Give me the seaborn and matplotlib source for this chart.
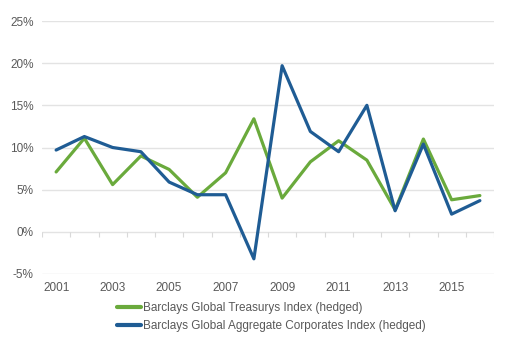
import matplotlib
matplotlib.use("Agg")
import matplotlib.pyplot as plt
import seaborn as sns
import pandas as pd
import numpy as np

years = list(range(2001, 2017))
treasurys = [7.1, 11.1, 5.6, 9.0, 7.4, 4.1, 7.0, 13.4, 4.0, 8.3, 10.8, 8.5, 2.6, 11.0, 3.8, 4.3]
corporates = [9.7, 11.3, 10.0, 9.5, 5.9, 4.4, 4.4, -3.2, 19.7, 11.9, 9.5, 15.0, 2.5, 10.4, 2.1, 3.7]
series_names = ["Barclays Global Treasurys Index (hedged)",
                "Barclays Global Aggregate Corporates Index (hedged)"]
yticks = [-5, 0, 5, 10, 15, 20, 25]
xtick_years = years[::2]

df = pd.DataFrame({
    "year": years * 2,
    "value": treasurys + corporates,
    "series": [series_names[0]] * len(years) + [series_names[1]] * len(years),
})

sns.set_theme(style="white")
plt.rcParams['font.family'] = ['Liberation Sans', 'DejaVu Sans']
text_color = "#595959"

fig = plt.figure(figsize=(5.05, 3.42), dpi=100)
ax = fig.add_axes([42/505, 1-274/342, (494-42)/505, (274-21)/342])

for v in yticks:
    ax.axhline(v, color="#e3e3e3", lw=1.0, zorder=0)

sns.lineplot(data=df, x="year", y="value", hue="series",
             palette=["#6aaa3c", "#1f5c94"], linewidth=2.3, ax=ax, legend=True)

# tick marks at category boundaries on the zero line
bounds = np.array(years + [years[-1] + 1]) - 0.5
ax.vlines(bounds, -0.6, 0, color="#d9d9d9", lw=0.8, zorder=0)

ax.set_xlim(years[0] - 0.5, years[-1] + 0.5)
ax.set_ylim(yticks[0], yticks[-1])
ax.set_yticks(yticks)
ax.set_yticklabels([f"{v}%" for v in yticks])
ax.set_xticks(xtick_years)
ax.set_xticklabels([str(y) for y in xtick_years])
ax.tick_params(axis="both", length=0, labelsize=8.5, colors=text_color, pad=6)
ax.set_xlabel("")
ax.set_ylabel("")
for s in ax.spines.values():
    s.set_visible(False)

leg = ax.legend(loc="upper left", bbox_to_anchor=(117/505, 1-302/342),
                bbox_transform=fig.transFigure, frameon=False, fontsize=8.5,
                borderpad=0, borderaxespad=0, handlelength=2.0, handletextpad=0.2,
                labelspacing=0.55)
for t in leg.get_texts():
    t.set_color(text_color)
for l in leg.get_lines():
    l.set_linewidth(3)

fig.savefig("out.png", dpi=100)
